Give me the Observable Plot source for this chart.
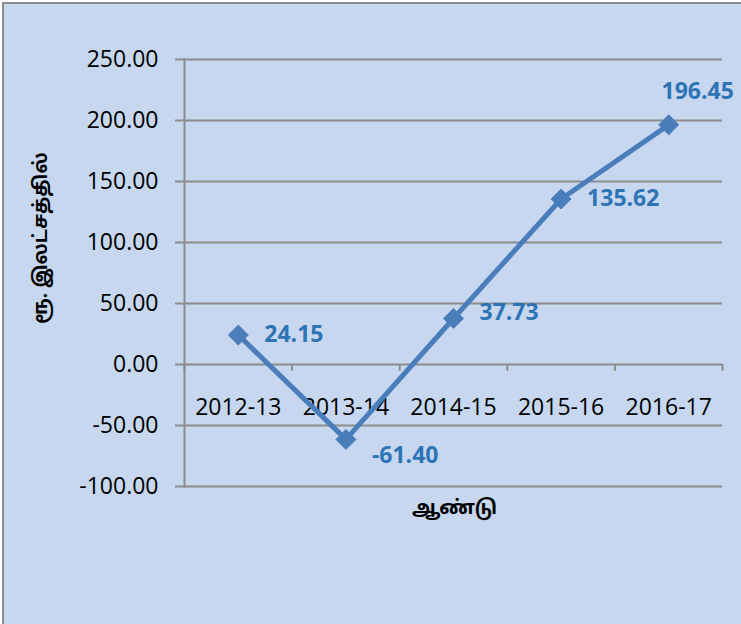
<!DOCTYPE html>
<html>
<head>
<meta charset="utf-8">
<script src="https://cdn.jsdelivr.net/npm/d3@7"></script>
<script src="https://cdn.jsdelivr.net/npm/@observablehq/plot@0.6"></script>
<style>
  html, body { margin: 0; padding: 0; background: #ffffff; overflow: hidden; width: 741px; height: 624px; }
  #bg { position: absolute; left: 2px; top: 2px; width: 800px; height: 700px; background: #c6d7ef; border: 2px solid #8c8c8c; }
  #chart { position: absolute; left: 0; top: 0; }
</style>
</head>
<body>
<div id="bg"></div>
<div id="chart"></div>
<script>
const categories = ["2012-13", "2013-14", "2014-15", "2015-16", "2016-17"];
const values = [24.15, -61.40, 37.73, 135.62, 196.45];
const yTicks = [-100, -50, 0, 50, 100, 150, 200, 250];
const yTitle = "ரூ. இலட்சத்தில்";
const xTitle = "ஆண்டு";

const data = categories.map((c, i) => ({ cat: c, idx: i + 0.5, value: values[i] }));
const boundaries = d3.range(categories.length + 1);

const lineColor = "#4a7ebb";
const labelColor = "#2e74b5";
const gridColor = "#8c8c8c";
const font = "'Open Sans', 'Noto Sans', sans-serif";
const tamilFont = "'Noto Sans Tamil', 'Noto Sans Tamil UI', 'Lohit Tamil', 'Noto Sans', 'FreeSans', sans-serif";

const labelMark = (filter, opts) => Plot.text(data.filter(filter), {
  x: "idx", y: "value", text: d => d.value.toFixed(2),
  fill: labelColor, fontWeight: "bold", fontSize: 23, textAnchor: "start", ...opts
});

const chart = Plot.plot({
  width: 741,
  height: 624,
  marginLeft: 184,
  marginRight: 19,
  marginTop: 59,
  marginBottom: 138,
  style: { background: "transparent", fontFamily: font, fontSize: "23px", color: "#000" },
  x: { type: "linear", domain: [0, categories.length], axis: null },
  y: { domain: [-100, 250], axis: null },
  marks: [
    Plot.ruleY(yTicks, { stroke: gridColor, strokeWidth: 2 }),
    Plot.axisY({ ticks: yTicks, tickFormat: d => d.toFixed(2), tickSize: 9, tickPadding: 17,
      stroke: gridColor, strokeWidth: 2, strokeOpacity: 1, fontSize: 23, fill: "#000", label: null }),
    Plot.frame({ anchor: "left", stroke: gridColor, strokeWidth: 2 }),
    Plot.ruleX(boundaries, { y1: 0, y2: -5.5, stroke: gridColor, strokeWidth: 2 }),
    Plot.text(data, { x: "idx", y: 0, text: "cat", dy: 43, fontSize: 23, fill: "#000" }),
    Plot.line(data, { x: "idx", y: "value", stroke: lineColor, strokeWidth: 5 }),
    Plot.dot(data, { x: "idx", y: "value", symbol: "diamond2", r: 9, fill: lineColor, stroke: lineColor, strokeWidth: 1 }),
    labelMark((d, i) => i === 0 || i === 3, { dx: 26, dy: 0 }),
    labelMark((d, i) => i === 1, { dx: 26, dy: 16 }),
    labelMark((d, i) => i === 2, { dx: 26, dy: -6 }),
    labelMark((d, i) => i === 4, { dx: 29, dy: -33, textAnchor: "middle" }),
    Plot.text([yTitle], { frameAnchor: "left", textAnchor: "middle", lineAnchor: "middle", dx: -144, dy: -35, rotate: -90, fontWeight: "bold", fontSize: 19, fill: "#000", fontFamily: tamilFont }),
    Plot.text([xTitle], { frameAnchor: "bottom", textAnchor: "middle", lineAnchor: "middle", dx: 1, dy: 21, fontWeight: "bold", fontSize: 19.5, fill: "#000", fontFamily: tamilFont })
  ]
});
document.getElementById("chart").append(chart);
</script>
</body>
</html>
